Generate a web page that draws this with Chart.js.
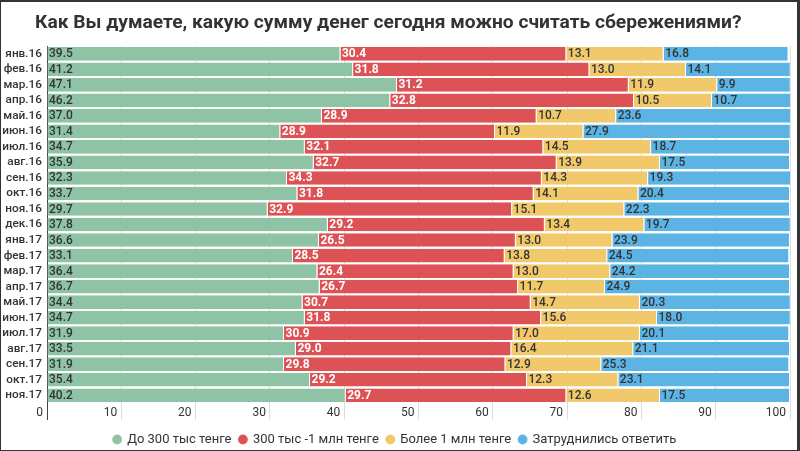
<!DOCTYPE html>
<html><head><meta charset="utf-8">
<script src="https://cdn.jsdelivr.net/npm/chart.js@4.4.1/dist/chart.umd.min.js"></script>
<style>html,body{margin:0;padding:0;background:#fff}#wrap{width:800px;height:451px;position:relative}canvas{display:block}</style>
</head><body><div id="wrap"><canvas id="c" width="800" height="451"></canvas></div>
<script>
const titleText = 'Как Вы думаете, какую сумму денег сегодня можно считать сбережениями?';
const categories = ['янв.16','фев.16','мар.16','апр.16','май.16','июн.16','июл.16','авг.16','сен.16','окт.16','ноя.16','дек.16','янв.17','фев.17','мар.17','апр.17','май.17','июн.17','июл.17','авг.17','сен.17','окт.17','ноя.17'];
const seriesNames = ['До 300 тыс тенге','300 тыс -1 млн тенге','Более 1 млн тенге','Затруднились ответить'];
const upTo300k = [39.5,41.2,47.1,46.2,37.0,31.4,34.7,35.9,32.3,33.7,29.7,37.8,36.6,33.1,36.4,36.7,34.4,34.7,31.9,33.5,31.9,35.4,40.2];
const from300kTo1m = [30.4,31.8,31.2,32.8,28.9,28.9,32.1,32.7,34.3,31.8,32.9,29.2,26.5,28.5,26.4,26.7,30.7,31.8,30.9,29.0,29.8,29.2,29.7];
const over1m = [13.1,13.0,11.9,10.5,10.7,11.9,14.5,13.9,14.3,14.1,15.1,13.4,13.0,13.8,13.0,11.7,14.7,15.6,17.0,16.4,12.9,12.3,12.6];
const hardToSay = [16.8,14.1,9.9,10.7,23.6,27.9,18.7,17.5,19.3,20.4,22.3,19.7,23.9,24.5,24.2,24.9,20.3,18.0,20.1,21.1,25.3,23.1,17.5];
const xTickValues = [0,10,20,30,40,50,60,70,80,90,100];

const colors = ['#8ec3a6','#dc5255','#f1c96b','#5cb4e4'];
const labelColors = ['#333333','#ffffff','#333333','#333333'];
const labelWeights = ['500','bold','500','500'];

Chart.defaults.font.family = 'Roboto';

const frame = {
  id: 'frame',
  afterLayout(chart) { chart.titleBlock.left = 35; },
  afterDraw(chart) {
    const c = chart.ctx; c.save(); c.fillStyle = '#333';
    c.fillRect(0,0,800,2); c.fillRect(0,0,1,451); c.fillRect(797,0,3,451); c.fillRect(0,450,800,1);
    c.restore();
  }
};
const valueLabels = {
  id: 'valueLabels',
  afterDatasetsDraw(chart) {
    const c = chart.ctx; c.save();
    c.textAlign = 'left'; c.textBaseline = 'middle';
    chart.data.datasets.forEach((ds, di) => {
      const meta = chart.getDatasetMeta(di);
      c.fillStyle = labelColors[di];
      c.font = labelWeights[di] + ' 12px Roboto';
      meta.data.forEach((el, i) => {
        c.fillText(ds.data[i].toFixed(1), Math.min(el.base, el.x) + 1.5, el.y + 0.5);
      });
    });
    c.restore();
  }
};

const datasets = [upTo300k, from300kTo1m, over1m, hardToSay].map((d, i) => ({
  label: seriesNames[i], data: d, backgroundColor: colors[i],
  borderColor: 'rgba(255,255,255,0.6)', borderWidth: {top:0,bottom:0,left:0,right:1}, borderSkipped: false,
  barPercentage: 0.88, categoryPercentage: 1
}));

new Chart(document.getElementById('c'), {
  type: 'bar',
  data: { labels: categories, datasets },
  plugins: [valueLabels, frame],
  options: {
    indexAxis: 'y', responsive: false, animation: false, devicePixelRatio: 1,
    layout: { padding: { left: 0, right: 10, top: 0, bottom: -5 } },
    plugins: {
      title: { display: true, text: titleText, align: 'start', color: '#333',
        font: { size: 19.2, weight: 'bold' }, padding: { top: 12, bottom: 11 } },
      legend: { position: 'bottom', labels: { usePointStyle: true, pointStyle: 'circle', boxWidth: 7, boxHeight: 7,
        padding: 8, color: '#333', font: { size: 13 } } },
      tooltip: { enabled: false }
    },
    scales: {
      x: { stacked: true, min: 0, max: 100,
        afterBuildTicks: s => { s.ticks = xTickValues.map(v => ({ value: v })); },
        afterFit: s => { s.height = 22; },
        ticks: { align: 'end', labelOffset: -4, padding: -14, color: '#333', font: { size: 12 } },
        grid: { color: c => (c.tick && c.tick.value === 0) ? '#444' : '#dddddd', tickLength: 17, drawTicks: true },
        border: { display: false } },
      y: { stacked: true,
        afterFit: s => { s.width = 47; },
        ticks: { padding: 5, autoSkip: false, color: '#333', font: { size: 11.8, weight: '500' } },
        grid: { display: false, drawTicks: false }, border: { display: false } }
    }
  }
});
</script>
</body></html>
